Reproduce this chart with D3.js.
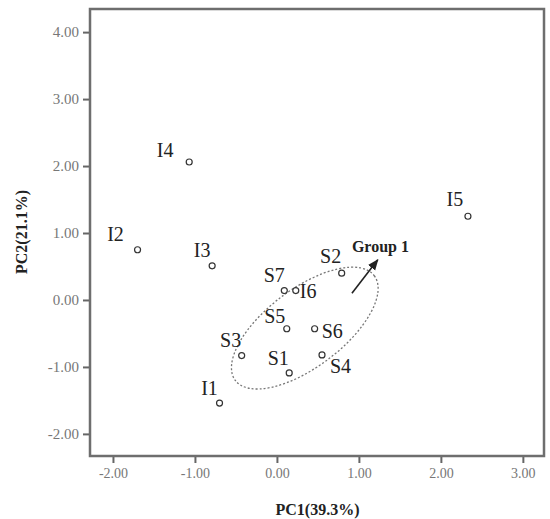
<!DOCTYPE html>
<html>
<head>
<meta charset="utf-8">
<script src="https://cdn.jsdelivr.net/npm/d3@7"></script>
<style>
  body { margin: 0; background: #fff; }
  svg { display: block; }
</style>
</head>
<body>
<div id="chart"></div>
<script>
// PCA scores
const names = ["I1", "I2", "I3", "I4", "I5", "I6", "S1", "S2", "S3", "S4", "S5", "S6", "S7"];
const pc1 = [-0.70, -1.70, -0.79, -1.07, 2.33, 0.23, 0.15, 0.79, -0.43, 0.55, 0.12, 0.46, 0.09];
const pc2 = [-1.54, 0.75, 0.51, 2.06, 1.25, 0.14, -1.09, 0.40, -0.83, -0.82, -0.43, -0.43, 0.14];

const xTicks = [-2, -1, 0, 1, 2, 3];
const yTicks = [-2, -1, 0, 1, 2, 3, 4];

// group 1 ellipse centre and arrow, in PC units
const groupCenter = [0.34, -0.42];
const arrowFrom = [0.915, 0.10];
const arrowTo = [1.23, 0.60];

const width = 550;
const height = 519;
const margin = { top: 8, right: 5, bottom: 63, left: 90 };

const x = d3.scaleLinear().domain([-2.28, 3.27]).range([margin.left, width - margin.right]);
const y = d3.scaleLinear().domain([-2.33, 4.36]).range([height - margin.bottom, margin.top]);

// plain hyphen for negatives, like the original
const fmt = (d) => d3.format(".2f")(d).replace("\u2212", "-");

// label placement next to each point: [dx, dy, anchor]
const labelPos = {
  I1: [-10, -8, "middle"], I2: [-22, -9, "middle"], I3: [-10, -9, "middle"],
  I4: [-24, -5, "middle"], I5: [-13, -10, "middle"], I6: [4, 7, "start"],
  S1: [-11, -8, "middle"], S2: [-11, -10, "middle"], S3: [-11, -9, "middle"],
  S4: [8, 18, "start"], S5: [-12, -6, "middle"], S6: [7, 9, "start"],
  S7: [-10, -9, "middle"]
};

const points = names.map((n, i) => ({ name: n, x: pc1[i], y: pc2[i] }));

const svg = d3.select("#chart").append("svg")
  .attr("width", width)
  .attr("height", height)
  .style("font-family", "'Liberation Serif', 'DejaVu Serif', serif");

svg.append("defs").append("marker")
  .attr("id", "head")
  .attr("viewBox", "0 0 10 10")
  .attr("refX", 9)
  .attr("refY", 5)
  .attr("markerWidth", 7)
  .attr("markerHeight", 7)
  .attr("orient", "auto")
  .append("path")
  .attr("d", "M0,1L10,5L0,9z")
  .attr("fill", "#222");

// axes
const xAxis = svg.append("g")
  .attr("transform", `translate(0,${height - margin.bottom})`)
  .call(d3.axisBottom(x).tickValues(xTicks).tickFormat(fmt).tickSize(7).tickPadding(5));
const yAxis = svg.append("g")
  .attr("transform", `translate(${margin.left},0)`)
  .call(d3.axisLeft(y).tickValues(yTicks).tickFormat(fmt).tickSize(7).tickPadding(4));

[xAxis, yAxis].forEach((g) => {
  g.select(".domain").remove();
  g.selectAll(".tick line").attr("stroke", "#666").attr("stroke-width", 2);
  g.selectAll(".tick text")
    .attr("fill", "#777")
    .style("font-family", "'Liberation Serif', serif");
});
xAxis.selectAll(".tick text").style("font-size", "14px");
yAxis.selectAll(".tick text").style("font-size", "15px");

// frame
svg.append("rect")
  .attr("x", margin.left)
  .attr("y", margin.top + 1)
  .attr("width", width - margin.left - margin.right - 1)
  .attr("height", height - margin.top - margin.bottom - 1)
  .attr("fill", "none")
  .attr("stroke", "#6e6e6e")
  .attr("stroke-width", 2.5);

// axis titles
svg.append("text")
  .attr("x", (x.range()[0] + x.range()[1]) / 2)
  .attr("y", 515)
  .attr("text-anchor", "middle")
  .attr("font-weight", "bold")
  .attr("font-size", 16)
  .attr("fill", "#222")
  .text("PC1(39.3%)");

svg.append("text")
  .attr("transform", `translate(27,${(y.range()[0] + y.range()[1]) / 2}) rotate(-90)`)
  .attr("text-anchor", "middle")
  .attr("font-weight", "bold")
  .attr("font-size", 16)
  .attr("fill", "#222")
  .text("PC2(21.1%)");

// dotted ellipse around group 1
svg.append("ellipse")
  .attr("transform", `translate(${x(groupCenter[0])},${y(groupCenter[1])}) rotate(-37)`)
  .attr("rx", 87)
  .attr("ry", 39)
  .attr("fill", "none")
  .attr("stroke", "#777")
  .attr("stroke-width", 1.3)
  .attr("stroke-dasharray", "2,2");

// arrow and group label
svg.append("line")
  .attr("x1", x(arrowFrom[0]))
  .attr("y1", y(arrowFrom[1]))
  .attr("x2", x(arrowTo[0]))
  .attr("y2", y(arrowTo[1]))
  .attr("stroke", "#222")
  .attr("stroke-width", 1.6)
  .attr("marker-end", "url(#head)");

svg.append("text")
  .attr("x", x(arrowFrom[0]))
  .attr("y", y(arrowTo[1]) - 8)
  .attr("font-weight", "bold")
  .attr("font-size", 16)
  .attr("fill", "#222")
  .text("Group 1");

// points
svg.append("g")
  .selectAll("circle")
  .data(points)
  .join("circle")
  .attr("cx", (d) => x(d.x))
  .attr("cy", (d) => y(d.y))
  .attr("r", 3)
  .attr("fill", "#fff")
  .attr("stroke", "#333")
  .attr("stroke-width", 1.2);

svg.append("g")
  .selectAll("text")
  .data(points)
  .join("text")
  .attr("x", (d) => x(d.x) + labelPos[d.name][0])
  .attr("y", (d) => y(d.y) + labelPos[d.name][1])
  .attr("text-anchor", (d) => labelPos[d.name][2])
  .attr("font-size", 20)
  .attr("fill", "#222")
  .text((d) => d.name);
</script>
</body>
</html>
